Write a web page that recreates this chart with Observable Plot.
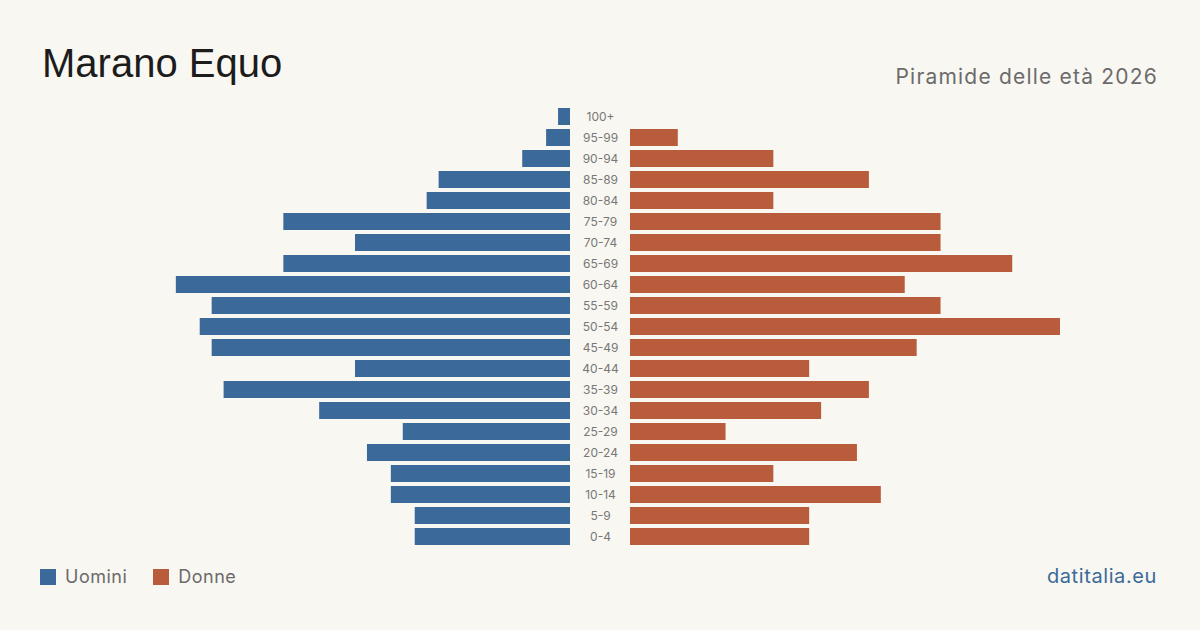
<!DOCTYPE html>
<html>
<head>
<meta charset="utf-8">
<script src="https://cdn.jsdelivr.net/npm/d3@7"></script>
<script src="https://cdn.jsdelivr.net/npm/@observablehq/plot@0.6"></script>
<style>
  html, body { margin: 0; padding: 0; background: #f9f7f2; }
  #page { position: relative; width: 1200px; height: 630px; background: #f9f7f2; font-family: Inter, "Liberation Sans", sans-serif; overflow: hidden; }
  #title { position: absolute; left: 42px; top: 41px; font-size: 40px; color: #1c1c1c; font-family: "Liberation Sans", Arial, sans-serif; letter-spacing: 0px; }
  #subtitle { position: absolute; right: 42px; top: 64px; font-size: 21px; color: #6b6b6b; letter-spacing: 1.2px; }
  #chart { position: absolute; left: 0; top: 0; }
  #legend { position: absolute; left: 40px; top: 566px; display: flex; align-items: center; font-size: 18px; color: #6b6b6b; letter-spacing: 0.5px; }
  .sw { width: 16px; height: 16px; display: inline-block; margin-right: 9px; }
  .item { display: flex; align-items: center; margin-right: 26px; }
  #source { position: absolute; right: 43px; top: 564px; font-size: 20px; color: #3b6a99; letter-spacing: 0.6px; }
</style>
</head>
<body>
<div id="page">
  <div id="chart"></div>
  <div id="title">Marano Equo</div>
  <div id="subtitle">Piramide delle età 2026</div>
  <div id="legend">
    <div class="item"><span class="sw" style="background:#3b6a9a"></span>Uomini</div>
    <div class="item"><span class="sw" style="background:#b95c3c"></span>Donne</div>
  </div>
  <div id="source">datitalia.eu</div>
</div>
<script>
const ages = ["100+","95-99","90-94","85-89","80-84","75-79","70-74","65-69","60-64","55-59","50-54","45-49","40-44","35-39","30-34","25-29","20-24","15-19","10-14","5-9","0-4"];
const men = [1,2,4,11,12,24,18,24,33,30,31,30,18,29,21,14,17,15,15,13,13];
const women = [0,4,12,20,12,26,26,32,23,26,36,24,15,20,16,8,19,12,21,15,15];

const rows = ages.map((a, i) => ({age: a, m: men[i], w: women[i]}));
const maxV = d3.max([...men, ...women]);
const gap = 30 / (430 / maxV);

const chart = Plot.plot({
  width: 1200,
  height: 630,
  marginLeft: 140,
  marginRight: 140,
  style: {background: "transparent", fontFamily: "Inter, sans-serif"},
  x: {domain: [-(maxV + gap), maxV + gap], range: [140, 1060], axis: null},
  y: {domain: ages, range: [104, 549], padding: 0.19, axis: null},
  marks: [
    Plot.barX(rows, {y: "age", x1: () => -gap, x2: d => -gap - d.m, fill: "#3b6a9a", inset: 0}),
    Plot.barX(rows.filter(d => d.w > 0), {y: "age", x1: () => gap, x2: d => gap + d.w, fill: "#b95c3c", inset: 0}),
    Plot.text(rows, {y: "age", x: () => 0, text: "age", fill: "#777", fontSize: 12})
  ]
});
document.getElementById("chart").appendChild(chart);
</script>
</body>
</html>
